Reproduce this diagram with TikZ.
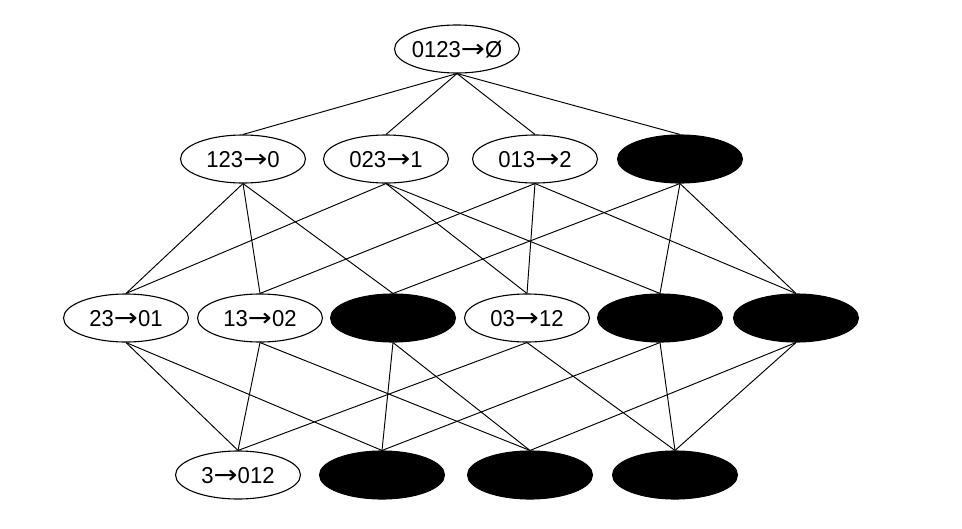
\documentclass[tikz,border=0pt]{standalone}
\usepackage{fontspec}
\setmainfont{Liberation Sans}
\newfontfamily\arrowfont{DejaVu Sans}
\usetikzlibrary{shapes.geometric}

% arrow sign between the two index sets
\newcommand\yields{\scalebox{1.3}[1.1]{\arrowfont →}}
% centred label of zero size, so the ellipse keeps its fixed size
\newcommand\celltext[1]{\smash{\raisebox{-0.36em}{\makebox[0pt]{\scalebox{0.96}[1]{#1}}}}}

\begin{document}
\begin{tikzpicture}[x=1pt,y=-1pt,
  cell/.style={ellipse, draw=black, line width=1.1pt, inner sep=0pt,
    minimum width=125pt, minimum height=48pt,
    font=\fontsize{23}{27}\selectfont},
  hidden/.style={cell, fill=black},
  link/.style={draw=black, line width=0.95pt}]

\useasboundingbox (0,0) rectangle (962,528);

% level 0
\node[cell] (n0123) at (457,49) {\celltext{0123\yields Ø}};

% level 1
\node[cell]   (n123) at (243,159) {\celltext{123\yields 0}};
\node[cell]   (n023) at (386,159) {\celltext{023\yields 1}};
\node[cell]   (n013) at (535,159) {\celltext{013\yields 2}};
\node[hidden] (n012) at (680,159) {};

% level 2
\node[cell]   (n23) at (126,318) {\celltext{23\yields 01}};
\node[cell]   (n13) at (260,318) {\celltext{13\yields 02}};
\node[hidden] (n12) at (393,318) {};
\node[cell]   (n03) at (527,318) {\celltext{03\yields 12}};
\node[hidden] (n02) at (660,318) {};
\node[hidden] (n01) at (796,318) {};

% level 3
\node[cell]   (n3) at (238,475) {\celltext{3\yields 012}};
\node[hidden] (n2) at (382,475) {};
\node[hidden] (n1) at (530,475) {};
\node[hidden] (n0) at (675,475) {};

% connections between consecutive levels
\foreach \a/\b in {n0123/n123, n0123/n023, n0123/n013, n0123/n012,
  n123/n23, n123/n13, n123/n12,
  n023/n23, n023/n03, n023/n02,
  n013/n13, n013/n03, n013/n01,
  n012/n12, n012/n02, n012/n01,
  n23/n3, n23/n2, n13/n3, n13/n1, n12/n2, n12/n1,
  n03/n3, n03/n0, n02/n2, n02/n0, n01/n1, n01/n0}
  \draw[link] (\a.south) -- (\b.north);
\end{tikzpicture}
\end{document}
